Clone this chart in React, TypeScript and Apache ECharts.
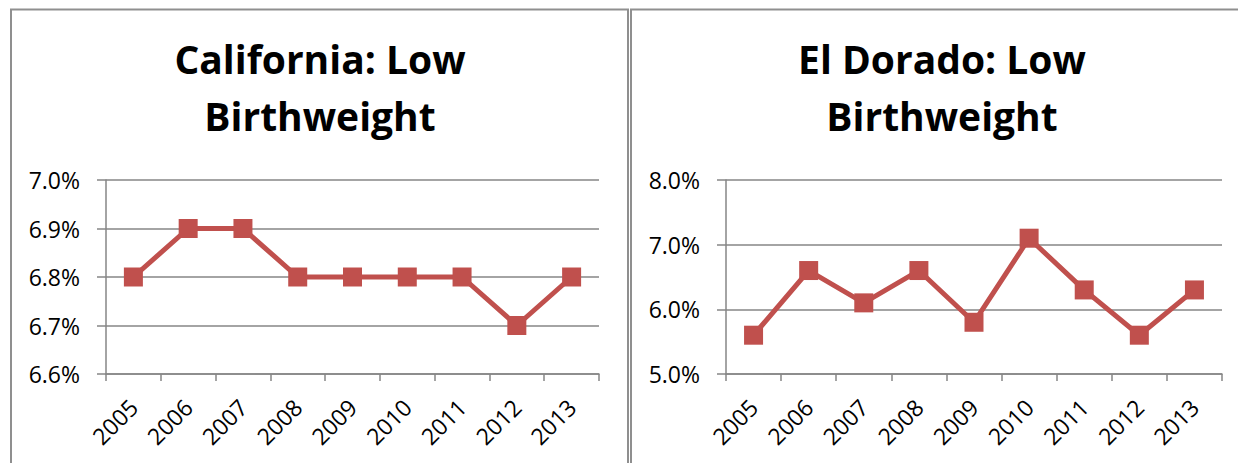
import React, { useEffect, useRef } from "react";
import * as echarts from "echarts";

const years = ["2005", "2006", "2007", "2008", "2009", "2010", "2011", "2012", "2013"];
const californiaLbw = [6.8, 6.9, 6.9, 6.8, 6.8, 6.8, 6.8, 6.7, 6.8];
const elDoradoLbw = [5.6, 6.6, 6.1, 6.6, 5.8, 7.1, 6.3, 5.6, 6.3];
const californiaTitle = ["California: Low", "Birthweight"];
const elDoradoTitle = ["El Dorado: Low", "Birthweight"];

const RED = "#C0504D";
const GRAY = "#868686";
const LABEL_FONT = "'Open Sans', 'Noto Sans', sans-serif";

function xAxisFor(gridIndex: number) {
  return {
    type: "category" as const,
    gridIndex,
    data: years,
    boundaryGap: true,
    axisLine: { lineStyle: { color: GRAY, width: 1.5 } },
    axisTick: { show: true, length: 7, lineStyle: { color: GRAY, width: 1.5 } },
    axisLabel: {
      rotate: 45,
      interval: 0,
      margin: 29,
      color: "#000",
      fontSize: 23,
      fontFamily: LABEL_FONT,
    },
  };
}

function yAxisFor(gridIndex: number, min: number, max: number, interval: number) {
  return {
    type: "value" as const,
    gridIndex,
    min,
    max,
    interval,
    axisLine: { show: true, lineStyle: { color: GRAY, width: 1.5 } },
    axisTick: { show: true, length: 9, lineStyle: { color: GRAY, width: 1.5 } },
    splitLine: { show: true, lineStyle: { color: GRAY, width: 1.5 } },
    axisLabel: {
      margin: 26,
      color: "#000",
      fontSize: 23,
      fontFamily: LABEL_FONT,
      formatter: (v: number) => v.toFixed(1) + "%",
    },
  };
}

function lineSeries(idx: number, data: number[]) {
  return {
    type: "line" as const,
    xAxisIndex: idx,
    yAxisIndex: idx,
    data,
    symbol: "rect",
    symbolSize: 19,
    lineStyle: { color: RED, width: 5 },
    itemStyle: { color: RED },
    z: 5,
  };
}

function titleTexts(lines: string[], cx: number) {
  return lines.map((t, i) => ({
    type: "text" as const,
    style: {
      text: t,
      x: cx,
      y: 58 + i * 57,
      textAlign: "center",
      textVerticalAlign: "middle",
      font: "bold 39px 'Open Sans', 'Noto Sans', sans-serif",
      fill: "#000",
    },
  }));
}

export default function App() {
  const ref = useRef<HTMLDivElement>(null);

  useEffect(() => {
    if (!ref.current) return;
    const chart = echarts.init(ref.current, null, { renderer: "svg" });
    chart.setOption({
      animation: false,
      backgroundColor: "#fff",
      grid: [
        { left: 106, top: 180, width: 493, height: 194 },
        { left: 726, top: 180, width: 496, height: 194 },
      ],
      xAxis: [xAxisFor(0), xAxisFor(1)],
      yAxis: [yAxisFor(0, 6.6, 7.0, 0.1), yAxisFor(1, 5, 8, 1)],
      series: [lineSeries(0, californiaLbw), lineSeries(1, elDoradoLbw)],
      graphic: [
        {
          type: "polyline",
          shape: { points: [[11, 463], [11, 9.5], [628, 9.5], [628, 463]] },
          style: { stroke: "#8f8f8f", lineWidth: 2, fill: "none" },
        },
        {
          type: "polyline",
          shape: { points: [[631, 463], [631, 9.5], [1238, 9.5]] },
          style: { stroke: "#8f8f8f", lineWidth: 2, fill: "none" },
        },
        ...titleTexts(californiaTitle, 320),
        ...titleTexts(elDoradoTitle, 942),
      ],
    });
    return () => chart.dispose();
  }, []);

  return (
    <div
      ref={ref}
      style={{ position: "fixed", left: 0, top: 0, width: 1238, height: 463 }}
    />
  );
}
